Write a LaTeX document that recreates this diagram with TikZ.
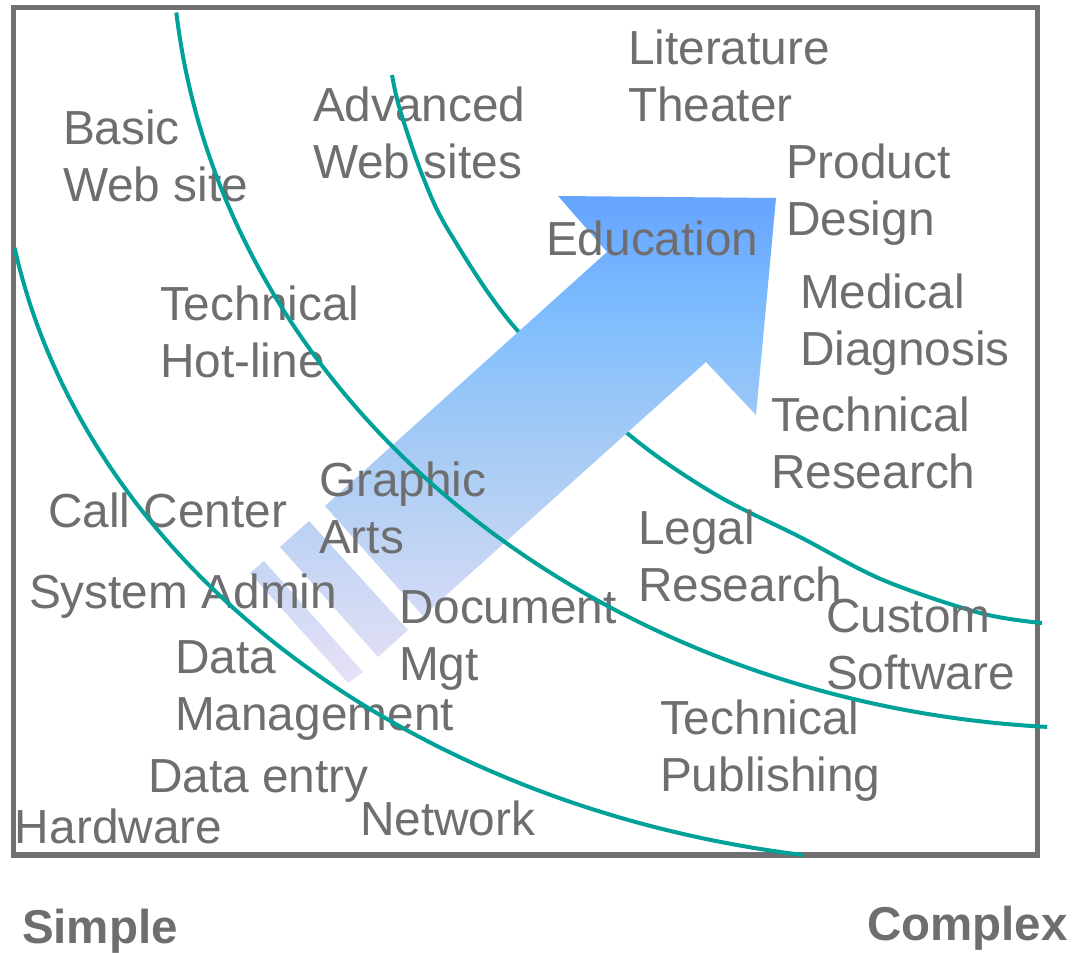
\documentclass[tikz,border=0pt]{standalone}
\usepackage{fontspec}
\setmainfont{Liberation Sans}
\definecolor{txtgray}{RGB}{110,110,112}
\definecolor{framegray}{RGB}{112,112,114}
\definecolor{curveteal}{RGB}{0,161,153}
\definecolor{ashA}{HTML}{E7E1F5}
\definecolor{ashB}{HTML}{A9CCF4}
\definecolor{ashC}{HTML}{80BEFE}
\definecolor{ashD}{HTML}{66A4FF}
\pgfdeclareverticalshading{arrowshade}{100bp}{color(0bp)=(ashA); color(25bp)=(ashA); color(48bp)=(ashB); color(62bp)=(ashC); color(75bp)=(ashD); color(100bp)=(ashD)}
\begin{document}
\begin{tikzpicture}[x=1pt,y=-1pt,
  lbl/.style={anchor=base west, inner sep=0pt, outer sep=0pt, align=left, text=txtgray, font=\fontsize{47.8}{57}\selectfont},
  axislbl/.style={anchor=base west, inner sep=0pt, outer sep=0pt, text=txtgray, font=\fontsize{47.5}{57}\selectfont\bfseries},
  ring/.style={draw=curveteal, line width=4pt},
  frame/.style={draw=framegray, line width=5.3pt}]
\useasboundingbox (0,0) rectangle (1072,953);
% frame
\draw[frame] (13.3,7.5) rectangle (1037.5,855);
% text under curve C (anchor = baseline of last line)
\node[lbl] (adv) at (313,178) {Advanced\\Web sites};
% curve C (behind the arrow)
\draw[ring] plot[smooth, tension=0.55] coordinates {(392,75) (400,110) (423,177) (450,233) (517,330) (627,433) (713,493) (800,537) (883,580) (980,613) (1042,623)};
% arrow
\shade[shading=arrowshade]
  (558,196) -- (776,198) -- (756,415) -- (706,362) -- (423,616) -- (325,506) -- (607,252) -- cycle
  (309,521) -- (408,630) -- (378,657) -- (280,547) -- cycle
  (264,561) -- (363,672) -- (348,683) -- (250,573) -- cycle;
% labels
\node[lbl] (basic) at (63,201) {Basic\\Web site};
\node[lbl] (lit) at (628,121) {Literature\\Theater};
\node[lbl] (prod) at (786,235) {Product\\Design};
\node[lbl] (edu) at (546,255) {Education};
\node[lbl] (hot) at (160,377) {Technical\\Hot-line};
\node[lbl] (med) at (800,365) {Medical\\Diagnosis};
\node[lbl] (tres) at (771,488) {Technical\\Research};
\node[lbl] (graph) at (319,553) {Graphic\\Arts};
\node[lbl] (call) at (48,527) {Call Center};
\node[lbl] (legal) at (638,601) {Legal\\Research};
\node[lbl] (sys) at (29,608) {System Admin};
\node[lbl] (doc) at (399,680) {Document\\Mgt};
\node[lbl] (cust) at (826,689) {Custom\\Software};
\node[lbl] (data) at (175,730) {Data\\Management};
\node[lbl] (tpub) at (660,791) {Technical\\Publishing};
\node[lbl] (dentry) at (148,792) {Data entry};
\node[lbl] (hw) at (15,843) {Hardware};
\node[lbl] (net) at (360,835) {Network};
\node[axislbl] (simple) at (22,943) {Simple};
\node[axislbl] (complex) at (867,940) {Complex};
% curves A and B (on top), elliptical arcs
\draw[ring] plot[domain=170.1:98.9, samples=120, variable=\t] ({950+949.5*cos(\t)},{120+744*sin(\t)});
\draw[ring] plot[domain=174.2:93.55, samples=120, variable=\t] ({1105+933.5*cos(\t)},{-68+796.5*sin(\t)});
\end{tikzpicture}
\end{document}
